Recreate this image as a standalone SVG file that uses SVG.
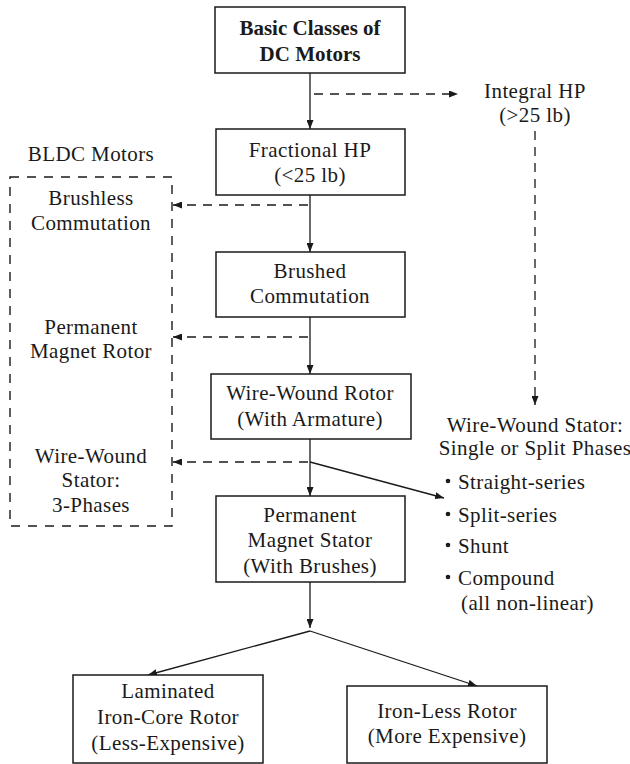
<svg xmlns="http://www.w3.org/2000/svg" width="630" height="764" viewBox="0 0 630 764">
<style>
text{font-family:'Liberation Serif','DejaVu Serif',serif;font-size:21px;letter-spacing:0.4px;fill:#1a1a1a;text-anchor:middle}
.b{font-weight:bold;letter-spacing:0}
.l{text-anchor:start}
.box{fill:#fff;stroke:#1a1a1a;stroke-width:1.5}
.dbox{fill:none;stroke:#1a1a1a;stroke-width:1.4;stroke-dasharray:9,8}
.c{fill:none;stroke:#1a1a1a;stroke-width:1.3;marker-end:url(#ah)}
.d{stroke-dasharray:9,7}
</style>
<defs>
<marker id="ah" markerUnits="userSpaceOnUse" markerWidth="9" markerHeight="7" refX="9" refY="3.5" orient="auto">
<path d="M0,0 L9,3.5 L0,7 z" fill="#1a1a1a"/>
</marker>
</defs>
<g id="connectors">
<line class="c" x1="310" y1="73" x2="310" y2="129"/>
<line class="c d" x1="314" y1="94" x2="458" y2="94"/>
<line class="c d" x1="535" y1="131" x2="535" y2="405"/>
<line class="c" x1="310" y1="195" x2="310" y2="252"/>
<line class="c d" x1="308" y1="205" x2="173" y2="205"/>
<line class="c" x1="310" y1="317" x2="310" y2="374"/>
<line class="c d" x1="308" y1="337" x2="173" y2="337"/>
<line class="c" x1="310" y1="439" x2="310" y2="496"/>
<line class="c d" x1="308" y1="462" x2="173" y2="462"/>
<line class="c" x1="310" y1="462" x2="444" y2="498"/>
<line class="c" x1="310" y1="582" x2="310" y2="628"/>
<line class="c" x1="310" y1="631" x2="148" y2="675"/>
<line class="c" x1="310" y1="631" x2="477" y2="686"/>
</g>
<g id="basic">
<rect class="box" x="215" y="7" width="190" height="66"/>
<text class="b" x="310" y="35">Basic Classes of</text>
<text class="b" x="310" y="61">DC Motors</text>
</g>
<g id="integral">
<text x="535" y="98">Integral HP</text>
<text x="535" y="122">(&gt;25 lb)</text>
</g>
<g id="fractional">
<rect class="box" x="216" y="129" width="189" height="66"/>
<text x="310" y="157">Fractional HP</text>
<text x="310" y="182">(&lt;25 lb)</text>
</g>
<g id="brushed">
<rect class="box" x="216" y="252" width="189" height="65"/>
<text x="310" y="278">Brushed</text>
<text x="310" y="303">Commutation</text>
</g>
<g id="wwrotor">
<rect class="box" x="211" y="374" width="200" height="65"/>
<text x="310" y="400">Wire-Wound Rotor</text>
<text x="310" y="426">(With Armature)</text>
</g>
<g id="pmstator">
<rect class="box" x="216" y="496" width="189" height="86"/>
<text x="310" y="522">Permanent</text>
<text x="310" y="547">Magnet Stator</text>
<text x="310" y="573">(With Brushes)</text>
</g>
<g id="bldc">
<text x="91" y="161">BLDC Motors</text>
<rect class="dbox" x="10" y="177" width="162" height="349"/>
<text x="91" y="205">Brushless</text>
<text x="91" y="230">Commutation</text>
<text x="91" y="334">Permanent</text>
<text x="91" y="358">Magnet Rotor</text>
<text x="91" y="463">Wire-Wound</text>
<text x="91" y="487">Stator:</text>
<text x="91" y="512">3-Phases</text>
</g>
<g id="wwstator">
<text x="535" y="432">Wire-Wound Stator:</text>
<text x="535" y="455">Single or Split Phases</text>
<circle cx="448" cy="481" r="2.3" fill="#1a1a1a"/>
<text class="l" x="458" y="489">Straight-series</text>
<circle cx="448" cy="514" r="2.3" fill="#1a1a1a"/>
<text class="l" x="458" y="522">Split-series</text>
<circle cx="448" cy="545" r="2.3" fill="#1a1a1a"/>
<text class="l" x="458" y="553">Shunt</text>
<circle cx="448" cy="577" r="2.3" fill="#1a1a1a"/>
<text class="l" x="458" y="585">Compound</text>
<text class="l" x="461" y="610">(all non-linear)</text>
</g>
<g id="laminated">
<rect class="box" x="73" y="675" width="190" height="88"/>
<text x="168" y="698">Laminated</text>
<text x="168" y="724">Iron-Core Rotor</text>
<text x="168" y="750">(Less-Expensive)</text>
</g>
<g id="ironless">
<rect class="box" x="347" y="686" width="200" height="77"/>
<text x="447" y="718">Iron-Less Rotor</text>
<text x="447" y="743">(More Expensive)</text>
</g>
</svg>
